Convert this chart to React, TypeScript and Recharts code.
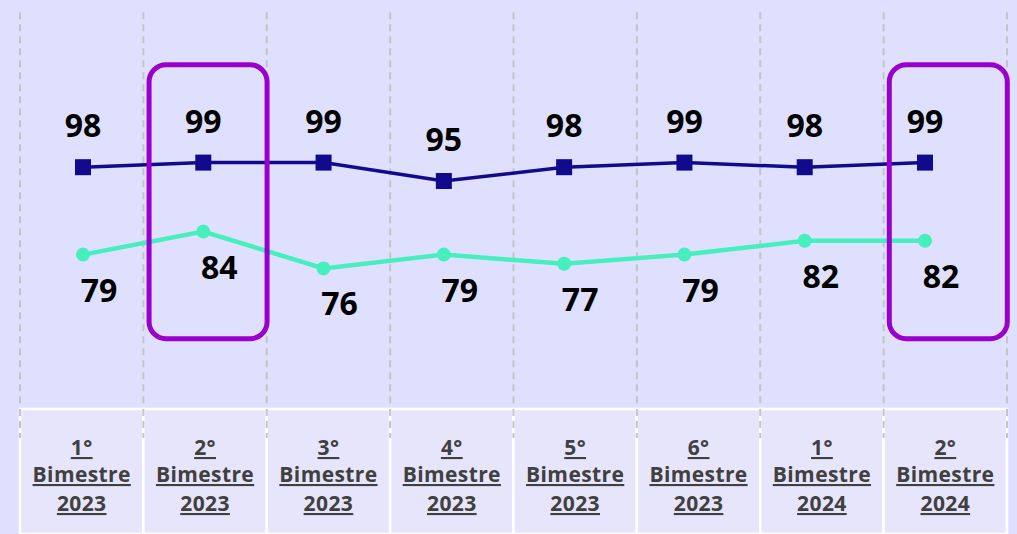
import { LineChart, Line, XAxis, YAxis, LabelList, ReferenceDot, ReferenceLine } from 'recharts';

// dados
const bimestres = ['1°', '2°', '3°', '4°', '5°', '6°', '1°', '2°'];
const anos = ['2023', '2023', '2023', '2023', '2023', '2023', '2024', '2024'];
const serieSuperior = [98, 99, 99, 95, 98, 99, 98, 99];
const serieInferior = [79, 84, 76, 79, 77, 79, 82, 82];
const destaques = ['2° Bimestre 2023', '2° Bimestre 2024'];

const data = bimestres.map((b, i) => ({
    idx: i,
    periodo: `${b} Bimestre ${anos[i]}`,
    superior: serieSuperior[i],
    inferior: serieInferior[i],
}));

// separadores entre as caixas de categoria
const separadores = data.map((d) => d.idx - 0.5).concat(data.length - 0.5);

const BG = '#dfe0fd';
const NAVY = '#110a8c';
const TEAL = '#47efbf';
const PURPLE = '#9a00cc';
const DASH = '#c4c4c8';
const BOX_W = 123.4;
const LAST = data[data.length - 1].periodo;

function BoxTick(props: any) {
    const { x, y, payload } = props;
    const [num, palavra, ano] = String(payload.value).split(' ');
    const left = x - BOX_W / 2;
    const dash = (lx: number) => (
        <line x1={lx} x2={lx} y1={y - 2} y2={y + 27} stroke={DASH} strokeWidth={2} strokeDasharray="7 5" />
    );
    const textStyle = {
        fontFamily: '"Open Sans", sans-serif',
        fontWeight: 700,
        fontSize: 21,
        letterSpacing: 0.4,
        fill: '#404040',
        textDecoration: 'underline',
    } as const;
    return (
        <g>
            <rect x={left} y={y - 2} width={BOX_W} height={125} fill="#e7e5fb" stroke="#ffffff" strokeWidth={2.5} />
            {dash(left)}
            {payload.value === LAST && dash(left + BOX_W)}
            <text x={x} y={y + 44} textAnchor="middle" style={textStyle}>{num}</text>
            <text x={x} y={y + 71} textAnchor="middle" style={textStyle}>{palavra}</text>
            <text x={x} y={y + 100} textAnchor="middle" style={textStyle}>{ano}</text>
        </g>
    );
}

function SquareDot(props: any) {
    const { cx, cy } = props;
    if (cx == null || cy == null) return null;
    return <rect x={cx - 8} y={cy - 8} width={16} height={16} fill={NAVY} />;
}

const labelFont = { fontFamily: '"Open Sans", sans-serif', fontWeight: 700, fontSize: 32, fill: '#000' } as const;

function TopLabel(props: any) {
    const { x, y, value } = props;
    return (
        <text x={x} y={y - 30} textAnchor="middle" style={labelFont}>{value}</text>
    );
}

function BottomLabel(props: any) {
    const { x, y, value } = props;
    return (
        <text x={x + 16} y={y + 47} textAnchor="middle" style={labelFont}>{value}</text>
    );
}

function HighlightBox(props: any) {
    const { cx, cy } = props;
    if (cx == null || cy == null) return <g />;
    return (
        <rect x={cx - 56} y={cy - 137} width={118} height={274} rx={17} fill="none" stroke={PURPLE} strokeWidth={5} />
    );
}

export default function App() {
    return (
        <div style={{ position: 'absolute', left: 0, top: 0, width: 1017, height: 534, background: BG }}>
            <LineChart width={1017} height={534} data={data} margin={{ top: 20, right: 0, bottom: 0, left: 0 }}>
                <YAxis hide domain={[45, 130]} />
                <XAxis
                    xAxisId="cat"
                    dataKey="periodo"
                    interval={0}
                    height={123}
                    axisLine={false}
                    tickLine={false}
                    tickSize={0}
                    tickMargin={0}
                    padding={{ left: 81.7, right: 71.7 }}
                    tick={<BoxTick />}
                />
                <XAxis xAxisId="pts" dataKey="periodo" hide padding={{ left: 83, right: 92 }} />
                <XAxis
                    xAxisId="grid"
                    dataKey="idx"
                    type="number"
                    hide
                    domain={[-0.5, data.length - 0.5]}
                    padding={{ left: 20, right: 10 }}
                />
                {separadores.map((s) => (
                    <ReferenceLine
                        key={s}
                        xAxisId="grid"
                        segment={[{ x: s, y: 131.7 }, { x: s, y: 39.1 }]}
                        ifOverflow="visible"
                        stroke={DASH}
                        strokeWidth={2}
                        strokeDasharray="7 5"
                    />
                ))}
                <Line
                    xAxisId="pts"
                    dataKey="superior"
                    stroke={NAVY}
                    strokeWidth={3.5}
                    dot={<SquareDot />}
                    isAnimationActive={false}
                >
                    <LabelList dataKey="superior" content={<TopLabel />} />
                </Line>
                <Line
                    xAxisId="pts"
                    dataKey="inferior"
                    stroke={TEAL}
                    strokeWidth={4.5}
                    dot={{ r: 7, fill: TEAL, stroke: 'none' }}
                    isAnimationActive={false}
                >
                    <LabelList dataKey="inferior" content={<BottomLabel />} />
                </Line>
                {destaques.map((d) => (
                    <ReferenceDot key={d} xAxisId="cat" x={d} y={90.5} shape={<HighlightBox />} />
                ))}
            </LineChart>
        </div>
    );
}
